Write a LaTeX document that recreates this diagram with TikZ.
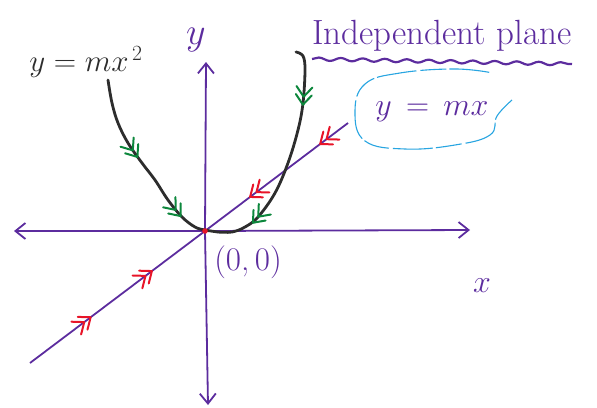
\RequirePackage{fix-cm}
\documentclass[tikz,border=0pt]{standalone}
\usetikzlibrary{arrows.meta,decorations.markings,decorations.pathmorphing}
\definecolor{axpurple}{RGB}{92,44,158}
\definecolor{pgreen}{RGB}{12,135,60}
\definecolor{pred}{RGB}{232,20,40}
\definecolor{cblue}{RGB}{40,165,225}
\definecolor{curveblack}{RGB}{45,45,45}
\newcommand\dchevron[1]{\draw[#1,line width=2pt,line cap=round,line join=round] (-10pt,8pt) -- (0,0) -- (-10pt,-8pt) (-2pt,8pt) -- (8pt,0) -- (-2pt,-8pt);}
\tikzset{
  axisline/.style={draw=axpurple, line width=1.8pt, -{Straight Barb[length=10pt,width=16pt,line width=1.8pt]}},
  diagline/.style={draw=axpurple, line width=1.8pt},
  curveline/.style={draw=curveblack, line width=2.8pt, line cap=round},
  purplelabel/.style={text=axpurple, inner sep=0pt},
}
\begin{document}
\begin{tikzpicture}[x=1pt,y=-1pt]
\useasboundingbox (0,0) rectangle (597,407);
% coordinates
\coordinate (O) at (205,231);
\coordinate (xl) at (14,231);
\coordinate (xr) at (470,230);
\coordinate (yt) at (206,62);
\coordinate (yb) at (208,405);
\coordinate (dl) at (30,363);
\coordinate (du) at (348,123);
% axes
\draw[axisline] (O) -- (xl);
\draw[axisline] (O) -- (xr);
\draw[axisline] (O) -- (yt);
\draw[axisline] (O) -- (yb);
% diagonal line (independent plane y = mx)
\draw[diagline, postaction={decorate, decoration={markings,
   mark=at position 0.31 with {\dchevron{pred}},
   mark=at position 0.66 with {\dchevron{pred}}}}] (dl) -- (O);
\draw[diagline, postaction={decorate, decoration={markings,
   mark=at position 0.15 with {\dchevron{pred}},
   mark=at position 0.64 with {\dchevron{pred}}}}] (du) -- (O);
% parabola y = mx^2
\draw[curveline, postaction={decorate, decoration={markings,
   mark=at position 0.38 with {\dchevron{pgreen}},
   mark=at position 0.75 with {\dchevron{pgreen}}}}]
  plot[smooth, tension=0.6] coordinates {(108,80) (112,103) (118,123) (128,143) (142,163) (155,180) (168,200) (182,217) (195,227) (205,230) (218,232)};
\draw[curveline, postaction={decorate, decoration={markings,
   mark=at position 0.22 with {\dchevron{pgreen}},
   mark=at position 0.8 with {\dchevron{pgreen}}}}]
  plot[smooth, tension=0.6] coordinates {(296,52) (303,56) (305,70) (303,103) (298,130) (288,163) (275,193) (258,217) (245,227) (232,232) (218,232)};
% origin dot
\fill[pred] (O) circle (2.8pt);
% labels
\node[inner sep=0pt, text=curveblack] (lpar) at (86,62) {\fontsize{31}{34}\selectfont $y = m x^{\,2}$};
\node[purplelabel] (ly) at (196,40) {\fontsize{38}{40}\selectfont $y$};
\node[purplelabel] (lx) at (482,286) {\fontsize{32}{34}\selectfont $x$};
\node[purplelabel] (lo) at (248,262) {\fontsize{33}{36}\selectfont (0,\,0)};
\node[purplelabel] (lplane) at (442,36) {\fontsize{35}{38}\selectfont Independent plane};
\node[purplelabel] (lmx) at (432,112) {\fontsize{32}{34}\selectfont $y \,=\, m x$};
% wavy underline
\draw[axpurple, line width=2.2pt, decorate, decoration={snake, amplitude=1.6pt, segment length=22pt}]
  (312,59) -- (572,64);
% cloud around y = mx
\draw[cblue, line width=1.1pt, dash pattern=on 26pt off 3pt on 40pt off 4pt]
  plot[smooth, tension=0.7] coordinates {(512,100) (497,116) (490,135) (455,145) (405,149) (365,141) (355,112) (365,84) (400,73) (455,69) (493,73)};
\end{tikzpicture}
\end{document}
